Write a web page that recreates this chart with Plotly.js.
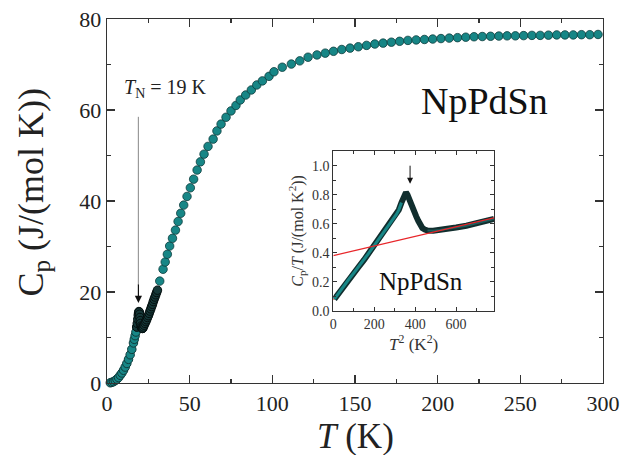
<!DOCTYPE html>
<html>
<head>
<meta charset="utf-8">
<script src="https://cdn.plot.ly/plotly-3.0.1.min.js"></script>
<style>html,body{margin:0;padding:0;background:#fff;}#chart{width:633px;height:455px;}</style>
</head>
<body>
<div id="chart"></div>
<script>
// Main plot: sparse points (T in K, Cp in J/(mol K))
var sparseT = [31.9,33.9,35.2,36.5,37.9,39.6,41.4,43.0,44.6,46.4,48.4,50.4,52.4,54.5,56.5,58.7,61.1,64.2,66.5,69,72,75,78,80.6,83.9,87.3,90.6,94,98,101,106,111.5,116.6,121.6,127,132,137,142,147,152,157,162,167,172,177,182,187,192,197,202,207,212,217,222,227,232,237,242,247,252,257,262,267,272,277,282,287,292,297];
var sparseCp = [22.4,25.0,26.6,28.3,30.1,31.8,33.6,35.5,37.3,39.1,41.0,42.9,44.8,46.8,48.6,50.3,52.0,53.6,55.4,56.9,58.4,59.8,61.0,62.2,63.3,64.4,65.5,66.4,67.4,68.4,69.4,70.1,70.8,71.6,72.1,72.5,72.9,73.3,73.6,73.9,74.2,74.5,74.7,74.9,75.1,75.3,75.4,75.5,75.6,75.7,75.8,75.9,76.0,76.1,76.15,76.2,76.25,76.3,76.3,76.35,76.4,76.4,76.45,76.5,76.5,76.5,76.55,76.55,76.6];
// Main plot: dense low-temperature points
var lowT = [2,3,4,5,6,7,8,9,10,11,12,13,14,15,16,16.5,17,17.5,18,21.4];
var lowCp = [0.05,0.15,0.3,0.55,0.85,1.2,1.7,2.2,2.8,3.5,4.3,5.2,6.2,7.4,8.8,9.6,10.4,11.2,12.3,12.0];
// Main plot: dense points around the transition
var peakT = [18,18.3,18.6,18.9,19.1,19.3,19.5,19.7,19.9,20.1,20.3,20.6,20.9,21.2,21.6,22,22.5,23,23.5,24,24.5,25,25.5,26,26.5,27,27.5,28,28.5,29,29.5,30,30.5];
var peakCp = [12.3,13.1,14.0,14.9,15.4,15.7,15.6,15.1,14.4,13.7,13.1,12.5,12.2,12.0,12.0,12.3,12.7,13.1,13.5,13.9,14.4,14.8,15.3,15.8,16.3,16.8,17.3,17.9,18.4,18.9,19.4,19.9,20.4];
// Inset: Cp/T vs T^2
var insX = [5,25,50,75,100,125,150,175,195,220,245,270,290,309,320,333,343,350,355,362,372,382,395,405,415,425,435,447,460,488,520,560,600,650,700,750,785];
var insY = [0.08,0.12,0.165,0.215,0.26,0.305,0.35,0.40,0.44,0.49,0.54,0.585,0.625,0.665,0.695,0.745,0.79,0.81,0.816,0.80,0.76,0.724,0.68,0.65,0.62,0.59,0.57,0.56,0.553,0.552,0.556,0.565,0.574,0.586,0.602,0.618,0.632];
// Inset fit lines
var fitHighX = [0,785];
var fitHighY = [0.38,0.64];
var fitLowX = [0,240];
var fitLowY = [0.075,0.52];

var teal = '#178686';
var edge = '#0e3c3c';
var nRise = 16; // rising part of the inset curve drawn with a teal core

var traces = [
  {x: lowT, y: lowCp, type:'scatter', mode:'markers', xaxis:'x', yaxis:'y', cliponaxis:false,
   marker:{size:8.5, color:teal, line:{color:edge, width:1}}},
  {x: peakT, y: peakCp, type:'scatter', mode:'markers', xaxis:'x', yaxis:'y',
   marker:{size:8.5, color:'#153838', line:{color:'#050f0f', width:1}}},
  {x: sparseT, y: sparseCp, type:'scatter', mode:'markers', xaxis:'x', yaxis:'y',
   marker:{size:8.5, color:teal, line:{color:edge, width:0.8}}},
  {x: fitLowX, y: fitLowY, type:'scatter', mode:'lines', xaxis:'x2', yaxis:'y2',
   line:{color:'#e8262a', width:1.3}},
  {x: insX, y: insY, type:'scatter', mode:'lines', xaxis:'x2', yaxis:'y2',
   line:{color:'#112e2e', width:6}},
  {x: insX.slice(0, nRise), y: insY.slice(0, nRise), type:'scatter', mode:'lines', xaxis:'x2', yaxis:'y2',
   line:{color:teal, width:3}},
  {x: insX.slice(nRise + 12), y: insY.slice(nRise + 12), type:'scatter', mode:'lines', xaxis:'x2', yaxis:'y2',
   line:{color:'#1d5e5e', width:2}},
  {x: fitHighX, y: fitHighY, type:'scatter', mode:'lines', xaxis:'x2', yaxis:'y2',
   line:{color:'#e8262a', width:1.3}}
];

var axCol = '#333';
var serif = 'Liberation Serif';
function mainAxis(extra){
  var a = {ticks:'inside', ticklen:8, tickwidth:1.2, tickcolor:axCol, showline:true, linecolor:axCol, linewidth:1.4,
    mirror:'ticks', showgrid:false, zeroline:false, tickfont:{family:serif, size:22, color:'#222'}};
  for (var k in extra) a[k] = extra[k];
  return a;
}
var layout = {
  width:633, height:455,
  margin:{l:107, r:30, t:19, b:72},
  paper_bgcolor:'#ffffff', plot_bgcolor:'rgba(0,0,0,0)',
  showlegend:false,
  font:{family:serif, color:'#222'},
  xaxis: mainAxis({range:[0,300], dtick:50, anchor:'y',
    minor:{dtick:25, ticks:'inside', ticklen:4, tickcolor:axCol, tickwidth:1.2}}),
  yaxis: mainAxis({range:[0,80], dtick:20, anchor:'x',
    minor:{dtick:10, ticks:'inside', ticklen:4, tickcolor:axCol, tickwidth:1.2}}),
  xaxis2: {domain:[0.4563,0.7802], anchor:'y2', range:[0,785], dtick:200,
    ticks:'inside', ticklen:4, tickwidth:1, tickcolor:axCol, showline:true, linecolor:axCol, linewidth:1,
    mirror:'ticks', showgrid:false, zeroline:false, tickfont:{family:serif, size:14, color:'#333'},
    minor:{dtick:100, ticks:'inside', ticklen:3, tickcolor:axCol},
    title:{text:'<i>T</i><sup>2</sup> (K<sup>2</sup>)', font:{family:serif, size:17, color:'#333'}, standoff:2}},
  yaxis2: {domain:[0.1986,0.637], anchor:'x2', range:[0,1.1], dtick:0.2, tickformat:'.1f',
    ticks:'inside', ticklen:4, tickwidth:1, tickcolor:axCol, showline:true, linecolor:axCol, linewidth:1,
    mirror:'ticks', showgrid:false, zeroline:false, tickfont:{family:serif, size:14, color:'#333'},
    minor:{dtick:0.1, ticks:'inside', ticklen:3, tickcolor:axCol},
    title:{text:'<i>C</i><sub>p</sub>/<i>T</i> (J/(mol K<sup>2</sup>))', font:{family:serif, size:16, color:'#333'}, standoff:4}},
  shapes:[
    {type:'line', xref:'x', yref:'y', x0:19, x1:19, y0:58.5, y1:21.5, line:{color:'#9a9a9a', width:1.2}}
  ],
  annotations:[
    {xref:'paper', yref:'paper', x:0.5, y:-0.147, xanchor:'center', yanchor:'middle', showarrow:false,
     text:'<i>T</i> (K)', font:{family:serif, size:35, color:'#222'}},
    {xref:'paper', yref:'paper', x:-0.148, y:0.525, xanchor:'center', yanchor:'middle', showarrow:false, textangle:-90,
     text:'C<sub>p</sub> (J/(mol K))', font:{family:serif, size:36, color:'#222'}},
    {xref:'x', yref:'y', x:19, y:17.6, ax:19, ay:22, axref:'x', ayref:'y', showarrow:true, arrowhead:2, arrowsize:1.2, arrowwidth:1.2, arrowcolor:'#111', text:''},
    {xref:'x2', yref:'y2', x:375, y:0.875, ax:375, ay:1.01, axref:'x2', ayref:'y2', showarrow:true, arrowhead:2, arrowsize:1.2, arrowwidth:1, arrowcolor:'#111', text:''},
    {xref:'paper', yref:'paper', x:0.03, y:0.808, xanchor:'left', yanchor:'middle', showarrow:false,
     text:'<i>T</i><sub>N</sub> = 19 K', font:{family:serif, size:20, color:'#222'}},
    {xref:'paper', yref:'paper', x:0.762, y:0.775, xanchor:'center', yanchor:'middle', showarrow:false,
     text:'NpPdSn', font:{family:serif, size:38, color:'#111'}},
    {xref:'x2', yref:'y2', x:430, y:0.2, xanchor:'center', yanchor:'middle', showarrow:false,
     text:'NpPdSn', font:{family:serif, size:25, color:'#111'}}
  ]
};
Plotly.newPlot('chart', traces, layout, {staticPlot:true, displayModeBar:false});
</script>
</body>
</html>
